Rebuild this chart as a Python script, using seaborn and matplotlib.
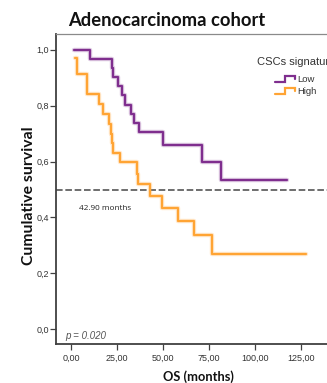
import numpy as np
import pandas as pd
import matplotlib
matplotlib.use("Agg")
import matplotlib.pyplot as plt
import matplotlib.patheffects as pe
from matplotlib.lines import Line2D
from matplotlib.legend_handler import HandlerLine2D
import seaborn as sns

# ---------------- data ----------------
low_time = [1.6, 10.3, 22.1, 23.0, 25.7, 27.6, 29.6, 32.5, 34.4, 37.1, 49.8, 71.4, 81.4, 117.2]
low_surv = [1.0, 0.968, 0.935, 0.903, 0.870, 0.838, 0.803, 0.770, 0.738, 0.706, 0.660, 0.600, 0.534, 0.534]

high_time = [2.2, 3.1, 8.9, 15.4, 17.6, 20.8, 21.6, 22.4, 23.0, 26.6, 35.7, 36.6, 42.9, 49.7,
             58.3, 67.0, 76.8, 127.7]
high_surv = [0.972, 0.913, 0.841, 0.806, 0.770, 0.734, 0.698, 0.666, 0.630, 0.597, 0.555, 0.521,
             0.478, 0.434, 0.386, 0.338, 0.270, 0.270]

groups = ["Low", "High"]
group_colors = ["#7F2E8E", "#FFA434"]
median_level = 0.5
median_label = "42.90 months"
p_label = "p = 0.020"
x_ticks = [0, 25, 50, 75, 100, 125]
x_tick_labels = ["0,00", "25,00", "50,00", "75,00", "100,00", "125,00"]
y_ticks = [0.0, 0.2, 0.4, 0.6, 0.8, 1.0]
y_tick_labels = ["0,0", "0,2", "0,4", "0,6", "0,8", "1,0"]

df = pd.concat([
    pd.DataFrame({"time": low_time, "surv": low_surv, "group": "Low"}),
    pd.DataFrame({"time": high_time, "surv": high_surv, "group": "High"}),
], ignore_index=True)

# ---------------- style ----------------
sns.set_theme(style="white")
plt.rcParams["font.family"] = ["Liberation Sans", "DejaVu Sans"]

W, H = 327, 383
fig = plt.figure(figsize=(W / 100, H / 100), dpi=100)
ax = fig.add_axes([56 / W, (H - 344) / H, (338 - 56) / W, (344 - 34) / H])

palette = dict(zip(groups, group_colors))
sns.lineplot(data=df, x="time", y="surv", hue="group", palette=palette,
             drawstyle="steps-post", estimator=None, sort=False, legend=False,
             linewidth=1.6, ax=ax)
for line in ax.get_lines():
    c = line.get_color()
    line.set_path_effects([pe.Stroke(linewidth=3.2, foreground=c, alpha=0.25), pe.Normal()])

ax.axhline(median_level, color="#6E6E6E", lw=1.4, dashes=(3.4, 1.4), zorder=1)

ax.set_xlim(-8.15, 145.1)
ax.set_ylim(-0.0526, 1.0565)
ax.set_xticks(x_ticks)
ax.set_xticklabels(x_tick_labels)
ax.set_yticks(y_ticks)
ax.set_yticklabels(y_tick_labels)
ax.tick_params(axis="both", which="major", direction="out", length=4.3, width=0.9,
               color="#404040", labelsize=6.5, labelcolor="#333333")
ax.tick_params(axis="y", pad=0.6, left=True)
ax.tick_params(axis="x", pad=2.6, bottom=True)

for side in ["left", "bottom"]:
    ax.spines[side].set_color("#404040")
    ax.spines[side].set_linewidth(1.3)
ax.spines["top"].set_color("#8A8A8A")
ax.spines["top"].set_linewidth(0.9)
ax.spines["right"].set_visible(False)

ax.set_xlabel("OS (months)", fontsize=9.3, fontweight="bold", family=["Lato", "DejaVu Sans"],
              va="center", color="#111111")
ax.xaxis.set_label_coords((198 - 56) / 282, (344 - 376.7) / 310)
ax.set_ylabel("Cumulative survival", fontsize=11.3, fontweight="bold", family=["Lato", "DejaVu Sans"],
              va="baseline", color="#111111")
ax.yaxis.set_label_coords((33.5 - 56) / 282, (344 - 195.5) / 310)

fig.text(166.5 / W, 1 - 26 / H, "Adenocarcinoma cohort", ha="center", va="baseline",
         fontsize=13.2, fontweight="bold", family=["Lato", "DejaVu Sans"], color="#111111")

ax.text((79 - 56) / 282, (344 - 209) / 310, median_label, transform=ax.transAxes,
        ha="left", va="center", fontsize=5.9, family=["Open Sans", "DejaVu Sans"], color="#222222")
ax.text((65.7 - 56) / 282, (344 - 336) / 310, p_label, transform=ax.transAxes,
        ha="left", va="center", fontsize=7.0, style="italic", color="#555555")


class StepHandler(HandlerLine2D):
    def create_artists(self, legend, orig_handle, xdescent, ydescent, width, height, fontsize, trans):
        xs = np.array([0.0, 0.5, 0.5, 1.0, 1.0]) * width - xdescent
        ys = np.array([0.0, 0.0, 1.0, 1.0, 0.45]) * height - ydescent
        ln = Line2D(xs, ys, color=orig_handle.get_color(), lw=orig_handle.get_linewidth(),
                    solid_joinstyle="miter")
        ln.set_transform(trans)
        return [ln]


handles = [Line2D([], [], color=palette[g], lw=1.6) for g in groups]
leg = ax.legend(handles, groups, title="CSCs signature", loc="upper center",
                bbox_to_anchor=((296 - 56) / 282, (344 - 57) / 310), frameon=False,
                fontsize=6.8, title_fontsize=8, handlelength=2.1, handleheight=0.55,
                handletextpad=0.2, labelspacing=0.3, borderpad=0, borderaxespad=0,
                handler_map={Line2D: StepHandler()})
leg.get_title().set_color("#333333")
for t in leg.get_texts():
    t.set_color("#333333")
leg._legend_box.sep = 6

fig.savefig("out.png", dpi=100)
